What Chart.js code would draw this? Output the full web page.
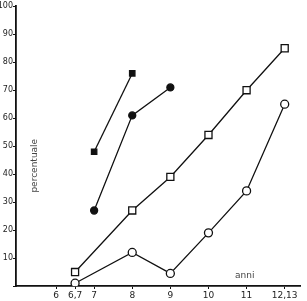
<!DOCTYPE html>
<html>
<head>
<meta charset="utf-8">
<script src="https://cdn.jsdelivr.net/npm/chart.js@4"></script>
<style>
  html, body { margin: 0; padding: 0; background: #fff; }
  #wrap { width: 307px; height: 301px; }
</style>
</head>
<body>
<div id="wrap"><canvas id="c" width="307" height="301"></canvas></div>
<script>
// ages (x) and percentages (y)
const xTickValues = [6, 6.5, 7, 8, 9, 10, 11, 12];
const xTickLabels = ["6", "6,7", "7", "8", "9", "10", "11", "12,13"];

const sqFilledAges = [7, 8];
const sqFilledVals = [48, 76];

const dotFilledAges = [7, 8, 9];
const dotFilledVals = [27, 61, 71];

const sqOpenAges = [6.5, 8, 9, 10, 11, 12];
const sqOpenVals = [5, 27, 39, 54, 70, 85];

const dotOpenAges = [6.5, 8, 9, 10, 11, 12];
const dotOpenVals = [1, 12, 4.5, 19, 34, 65];

const pts = (xs, ys) => xs.map((x, i) => ({ x, y: ys[i] }));

function series(xs, ys, style, radius, filled) {
  return {
    data: pts(xs, ys),
    borderColor: "#111",
    borderWidth: 1.3,
    pointStyle: style,
    pointRadius: radius,
    pointBorderWidth: 1.3,
    pointBorderColor: "#111",
    pointBackgroundColor: filled ? "#111" : "#fff",
    tension: 0,
  };
}

// text labels inside the plot
const labelsPlugin = {
  id: "labels",
  afterDraw(chart) {
    const { ctx, scales } = chart;
    ctx.save();
    ctx.fillStyle = "#444";
    ctx.font = "9px 'DejaVu Sans'";
    ctx.textAlign = "center";
    ctx.textBaseline = "middle";
    ctx.fillText("anni", scales.x.getPixelForValue(10.95), scales.y.getPixelForValue(3.6));
    ctx.translate(scales.x.getPixelForValue(5.45), scales.y.getPixelForValue(43));
    ctx.rotate(-Math.PI / 2);
    ctx.fillText("percentuale", 0, 0);
    ctx.restore();
  },
};

new Chart(document.getElementById("c"), {
  type: "line",
  data: {
    datasets: [
      series(sqOpenAges, sqOpenVals, "rect", 5, false),
      series(dotOpenAges, dotOpenVals, "circle", 4, false),
      series(sqFilledAges, sqFilledVals, "rect", 3.8, true),
      series(dotFilledAges, dotFilledVals, "circle", 3.5, true),
    ],
  },
  options: {
    responsive: false,
    animation: false,
    layout: { padding: { top: 4, right: 0, left: 0, bottom: 0 } },
    plugins: { legend: { display: false }, tooltip: { enabled: false } },
    scales: {
      x: {
        type: "linear",
        min: 4.95,
        max: 12.42,
        afterBuildTicks: (s) => { s.ticks = xTickValues.map((v) => ({ value: v })); },
        afterFit: (s) => { s.height = 15; },
        ticks: {
          autoSkip: false,
          maxRotation: 0,
          padding: 1,
          color: "#222",
          font: { family: "DejaVu Sans", size: 9 },
          callback: (v) => xTickLabels[xTickValues.indexOf(v)] ?? "",
        },
        grid: { drawOnChartArea: false, drawTicks: true, tickLength: 3, color: "#111" },
        border: { color: "#111", width: 1.8 },
      },
      y: {
        min: 0,
        max: 100,
        afterFit: (s) => { s.width = 16; },
        ticks: {
          stepSize: 10,
          padding: 0,
          color: "#222",
          font: { family: "DejaVu Sans", size: 8 },
          callback: (v) => (v === 0 ? "" : v),
        },
        grid: { drawOnChartArea: false, drawTicks: true, tickLength: 3, color: "#111" },
        border: { color: "#111", width: 1.8 },
      },
    },
  },
  plugins: [labelsPlugin],
});
</script>
</body>
</html>
